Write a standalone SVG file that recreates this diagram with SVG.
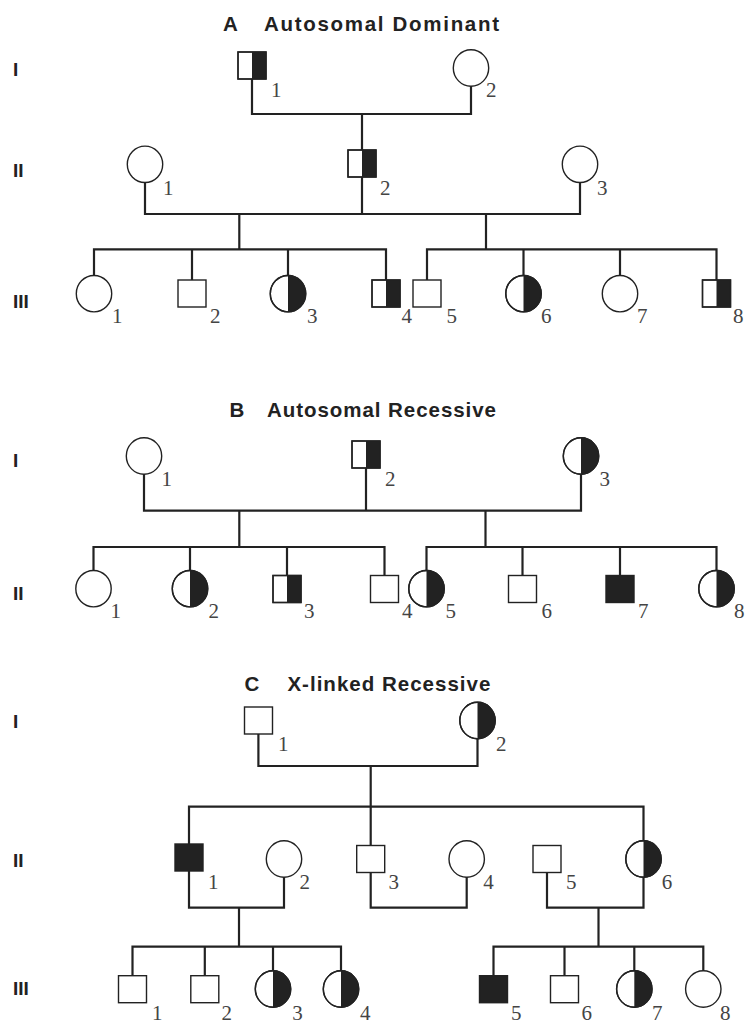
<svg xmlns="http://www.w3.org/2000/svg" width="745" height="1023" viewBox="0 0 745 1023">
<style>
.c{stroke:#222;stroke-width:2.2;fill:none}
.s{fill:#fff;stroke:#222;stroke-width:1.4}
.f{fill:#222;stroke:none}
.lbl{font-family:"Liberation Serif",serif;font-size:21px;fill:#444}
.gen{font-family:"Liberation Sans",sans-serif;font-weight:bold;font-size:19px;fill:#222}
.title{font-family:"Liberation Sans",sans-serif;font-weight:bold;font-size:20.5px;fill:#222}
</style>
<rect width="745" height="1023" fill="#fff"/>
<g id="titles">
<text class="title" y="30.5"><tspan x="223">A</tspan><tspan x="264" textLength="235" lengthAdjust="spacing">Autosomal Dominant</tspan></text>
<text class="title" y="417"><tspan x="229.5">B</tspan><tspan x="267" textLength="229" lengthAdjust="spacing">Autosomal Recessive</tspan></text>
<text class="title" y="690.5"><tspan x="244.6">C</tspan><tspan x="287.4" textLength="203" lengthAdjust="spacing">X-linked Recessive</tspan></text>
</g>
<g id="generations">
<text class="gen" x="13" y="76">I</text>
<text class="gen" x="13" y="177">II</text>
<text class="gen" x="13" y="308">III</text>
<text class="gen" x="13" y="467">I</text>
<text class="gen" x="13" y="600">II</text>
<text class="gen" x="13" y="728">I</text>
<text class="gen" x="13" y="867">II</text>
<text class="gen" x="13" y="995">III</text>
</g>
<g id="connectors" class="c">
<path d="M252,79 V114 H471 V86"/>
<path d="M362,114 V150"/>
<path d="M145,182 V214 H580 V182"/>
<path d="M362,177 V214"/>
<path d="M239.3,214 V249.3"/>
<path d="M486,214 V249.3"/>
<path d="M94,275.7 V249.3 H386 V280"/>
<path d="M192,249.3 V280"/>
<path d="M288,249.3 V275.7"/>
<path d="M427,280 V249.3 H716.5 V280"/>
<path d="M523.5,249.3 V275.7"/>
<path d="M620,249.3 V275.7"/>
<path d="M144,474 V510.7 H581 V474"/>
<path d="M366,468 V510.7"/>
<path d="M239.3,510.7 V547"/>
<path d="M485.5,510.7 V547"/>
<path d="M93.5,570.7 V547 H384.5 V575.5"/>
<path d="M190,547 V570.7"/>
<path d="M287,547 V575.5"/>
<path d="M426.5,570.7 V547 H716.5 V570.7"/>
<path d="M522.5,547 V575.5"/>
<path d="M620,547 V575.5"/>
<path d="M258.4,734 V766 H477.5 V738.5"/>
<path d="M370.7,766 V845.7"/>
<path d="M189,844 V806.7 H643.5 V841"/>
<path d="M189,871 V907.7 H284 V877"/>
<path d="M370.7,872.3 V907.7 H466.7 V877"/>
<path d="M547,872.3 V907.7 H643.5 V877"/>
<path d="M239,907.7 V946.7"/>
<path d="M598.5,907.7 V946.7"/>
<path d="M132.5,975.7 V946.7 H341 V971"/>
<path d="M204.8,946.7 V975.7"/>
<path d="M273,946.7 V971"/>
<path d="M493.5,975.7 V946.7 H703.3 V971"/>
<path d="M564.5,946.7 V975.7"/>
<path d="M634.3,946.7 V971"/>
</g>
<g id="A-I-1"><rect class="s" x="238" y="52" width="28" height="27"/><rect class="f" x="252" y="52" width="14" height="27"/><rect class="s" x="238" y="52" width="28" height="27" style="fill:none"/><text class="lbl" x="271" y="97">1</text></g>
<g id="A-I-2"><ellipse class="s" cx="471" cy="68" rx="17.7" ry="18.2"/><text class="lbl" x="486" y="97">2</text></g>
<g id="A-II-1"><ellipse class="s" cx="145" cy="164.3" rx="17.7" ry="18.2"/><text class="lbl" x="163" y="195">1</text></g>
<g id="A-II-2"><rect class="s" x="348" y="150" width="28" height="27"/><rect class="f" x="362" y="150" width="14" height="27"/><rect class="s" x="348" y="150" width="28" height="27" style="fill:none"/><text class="lbl" x="380" y="195">2</text></g>
<g id="A-II-3"><ellipse class="s" cx="580" cy="164.3" rx="17.7" ry="18.2"/><text class="lbl" x="597" y="195">3</text></g>
<g id="A-III-1"><ellipse class="s" cx="94" cy="293.7" rx="17.7" ry="18.2"/><text class="lbl" x="112" y="323">1</text></g>
<g id="A-III-2"><rect class="s" x="178" y="280" width="28" height="27"/><text class="lbl" x="210" y="323">2</text></g>
<g id="A-III-3"><ellipse class="s" cx="288" cy="293.7" rx="17.7" ry="18.2"/><path class="f" d="M288,275.5 A17.7,18.2 0 0 1 288,311.9 Z"/><ellipse class="s" cx="288" cy="293.7" rx="17.7" ry="18.2" style="fill:none"/><text class="lbl" x="307" y="323">3</text></g>
<g id="A-III-4"><rect class="s" x="372" y="280" width="28" height="27"/><rect class="f" x="386" y="280" width="14" height="27"/><rect class="s" x="372" y="280" width="28" height="27" style="fill:none"/><text class="lbl" x="401.5" y="323">4</text></g>
<g id="A-III-5"><rect class="s" x="413" y="280" width="28" height="27"/><text class="lbl" x="446.5" y="323">5</text></g>
<g id="A-III-6"><ellipse class="s" cx="523.5" cy="293.7" rx="17.7" ry="18.2"/><path class="f" d="M523.5,275.5 A17.7,18.2 0 0 1 523.5,311.9 Z"/><ellipse class="s" cx="523.5" cy="293.7" rx="17.7" ry="18.2" style="fill:none"/><text class="lbl" x="541" y="323">6</text></g>
<g id="A-III-7"><ellipse class="s" cx="620" cy="293.7" rx="17.7" ry="18.2"/><text class="lbl" x="637" y="323">7</text></g>
<g id="A-III-8"><rect class="s" x="702.5" y="280" width="28" height="27"/><rect class="f" x="716.5" y="280" width="14" height="27"/><rect class="s" x="702.5" y="280" width="28" height="27" style="fill:none"/><text class="lbl" x="733" y="323">8</text></g>
<g id="B-I-1"><ellipse class="s" cx="144" cy="456" rx="17.7" ry="18.2"/><text class="lbl" x="161.5" y="486">1</text></g>
<g id="B-I-2"><rect class="s" x="352" y="441" width="28" height="27"/><rect class="f" x="366" y="441" width="14" height="27"/><rect class="s" x="352" y="441" width="28" height="27" style="fill:none"/><text class="lbl" x="385" y="486">2</text></g>
<g id="B-I-3"><ellipse class="s" cx="581" cy="456" rx="17.7" ry="18.2"/><path class="f" d="M581,437.8 A17.7,18.2 0 0 1 581,474.2 Z"/><ellipse class="s" cx="581" cy="456" rx="17.7" ry="18.2" style="fill:none"/><text class="lbl" x="599.5" y="486">3</text></g>
<g id="B-II-1"><ellipse class="s" cx="93.5" cy="588.7" rx="17.7" ry="18.2"/><text class="lbl" x="110.5" y="618">1</text></g>
<g id="B-II-2"><ellipse class="s" cx="190" cy="588.7" rx="17.7" ry="18.2"/><path class="f" d="M190,570.5 A17.7,18.2 0 0 1 190,606.9 Z"/><ellipse class="s" cx="190" cy="588.7" rx="17.7" ry="18.2" style="fill:none"/><text class="lbl" x="208.5" y="618">2</text></g>
<g id="B-II-3"><rect class="s" x="273" y="575.5" width="28" height="27"/><rect class="f" x="287" y="575.5" width="14" height="27"/><rect class="s" x="273" y="575.5" width="28" height="27" style="fill:none"/><text class="lbl" x="304" y="618">3</text></g>
<g id="B-II-4"><rect class="s" x="370.5" y="575.5" width="28" height="27"/><text class="lbl" x="402" y="618">4</text></g>
<g id="B-II-5"><ellipse class="s" cx="426.5" cy="588.7" rx="17.7" ry="18.2"/><path class="f" d="M426.5,570.5 A17.7,18.2 0 0 1 426.5,606.9 Z"/><ellipse class="s" cx="426.5" cy="588.7" rx="17.7" ry="18.2" style="fill:none"/><text class="lbl" x="445.5" y="618">5</text></g>
<g id="B-II-6"><rect class="s" x="508.5" y="575.5" width="28" height="27"/><text class="lbl" x="541.5" y="618">6</text></g>
<g id="B-II-7"><rect class="s" x="606" y="575.5" width="28" height="27" style="fill:#222"/><text class="lbl" x="638" y="618">7</text></g>
<g id="B-II-8"><ellipse class="s" cx="716.5" cy="588.7" rx="17.7" ry="18.2"/><path class="f" d="M716.5,570.5 A17.7,18.2 0 0 1 716.5,606.9 Z"/><ellipse class="s" cx="716.5" cy="588.7" rx="17.7" ry="18.2" style="fill:none"/><text class="lbl" x="734" y="618">8</text></g>
<g id="C-I-1"><rect class="s" x="244.5" y="707" width="28" height="27"/><text class="lbl" x="278" y="750.5">1</text></g>
<g id="C-I-2"><ellipse class="s" cx="477.5" cy="720.5" rx="17.7" ry="18.2"/><path class="f" d="M477.5,702.3 A17.7,18.2 0 0 1 477.5,738.7 Z"/><ellipse class="s" cx="477.5" cy="720.5" rx="17.7" ry="18.2" style="fill:none"/><text class="lbl" x="496" y="750.5">2</text></g>
<g id="C-II-1"><rect class="s" x="175" y="844" width="28" height="27" style="fill:#222"/><text class="lbl" x="208" y="889.3">1</text></g>
<g id="C-II-2"><ellipse class="s" cx="284" cy="859" rx="17.7" ry="18.2"/><text class="lbl" x="299.5" y="889.3">2</text></g>
<g id="C-II-3"><rect class="s" x="356.7" y="845.5" width="28" height="27"/><text class="lbl" x="388.6" y="889.3">3</text></g>
<g id="C-II-4"><ellipse class="s" cx="466.7" cy="859" rx="17.7" ry="18.2"/><text class="lbl" x="483.3" y="889.3">4</text></g>
<g id="C-II-5"><rect class="s" x="533" y="845.5" width="28" height="27"/><text class="lbl" x="566" y="889.3">5</text></g>
<g id="C-II-6"><ellipse class="s" cx="643.5" cy="859" rx="17.7" ry="18.2"/><path class="f" d="M643.5,840.8 A17.7,18.2 0 0 1 643.5,877.2 Z"/><ellipse class="s" cx="643.5" cy="859" rx="17.7" ry="18.2" style="fill:none"/><text class="lbl" x="661.7" y="889.3">6</text></g>
<g id="C-III-1"><rect class="s" x="118.5" y="975.7" width="28" height="27"/><text class="lbl" x="152" y="1019.5">1</text></g>
<g id="C-III-2"><rect class="s" x="190.8" y="975.7" width="28" height="27"/><text class="lbl" x="221.5" y="1019.5">2</text></g>
<g id="C-III-3"><ellipse class="s" cx="273" cy="989" rx="17.7" ry="18.2"/><path class="f" d="M273,970.8 A17.7,18.2 0 0 1 273,1007.2 Z"/><ellipse class="s" cx="273" cy="989" rx="17.7" ry="18.2" style="fill:none"/><text class="lbl" x="292.3" y="1019.5">3</text></g>
<g id="C-III-4"><ellipse class="s" cx="341" cy="989" rx="17.7" ry="18.2"/><path class="f" d="M341,970.8 A17.7,18.2 0 0 1 341,1007.2 Z"/><ellipse class="s" cx="341" cy="989" rx="17.7" ry="18.2" style="fill:none"/><text class="lbl" x="360" y="1019.5">4</text></g>
<g id="C-III-5"><rect class="s" x="479.5" y="975.7" width="28" height="27" style="fill:#222"/><text class="lbl" x="511" y="1019.5">5</text></g>
<g id="C-III-6"><rect class="s" x="550.5" y="975.7" width="28" height="27"/><text class="lbl" x="581.5" y="1019.5">6</text></g>
<g id="C-III-7"><ellipse class="s" cx="634.3" cy="989" rx="17.7" ry="18.2"/><path class="f" d="M634.3,970.8 A17.7,18.2 0 0 1 634.3,1007.2 Z"/><ellipse class="s" cx="634.3" cy="989" rx="17.7" ry="18.2" style="fill:none"/><text class="lbl" x="652" y="1019.5">7</text></g>
<g id="C-III-8"><ellipse class="s" cx="703.3" cy="989" rx="17.7" ry="18.2"/><text class="lbl" x="720" y="1019.5">8</text></g>
</svg>
